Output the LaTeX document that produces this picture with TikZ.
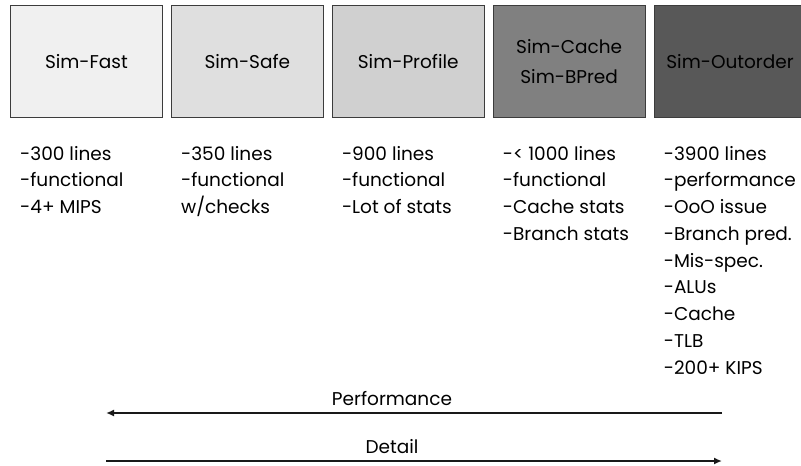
\documentclass[tikz,border=0pt]{standalone}
\usepackage{fontspec}
\setmainfont{Poppins}
\usetikzlibrary{arrows.meta,positioning}
\definecolor{gris1}{RGB}{240,240,240}
\definecolor{gris2}{RGB}{223,223,223}
\definecolor{gris3}{RGB}{208,208,208}
\definecolor{gris4}{RGB}{128,128,128}
\definecolor{gris5}{RGB}{88,88,88}
\definecolor{borde}{RGB}{60,60,60}
\tikzset{
  sim/.style={draw=borde, line width=0.9pt, minimum width=152pt, minimum height=112pt, inner sep=0pt, align=center, font=\fontsize{18.5}{30}\selectfont},
  lista/.style={anchor=north west, inner sep=0pt, align=left, font=\fontsize{18.5}{26.75}\selectfont},
  eje/.style={line width=1.8pt, black!90, -{Latex[length=8pt,width=7pt]}},
  et/.style={font=\fontsize{18.5}{22}\selectfont},
}
\begin{document}
\begin{tikzpicture}[x=1pt, y=-1pt, node distance=8pt]
  \useasboundingbox (0,0) rectangle (801,466);
  % simulators, fastest first
  \node[sim, fill=gris1, anchor=north west] (fast) at (10,5) {Sim-Fast};
  \node[sim, fill=gris2, right=of fast] (safe) {Sim-Safe};
  \node[sim, fill=gris3, right=of safe] (profile) {Sim-Profile};
  \node[sim, fill=gris4, right=of profile] (cache) {Sim-Cache\\Sim-BPred};
  \node[sim, fill=gris5, text=black, right=of cache] (outorder) {Sim-Outorder};
  % what each one gives
  \node[lista] (lfast) at ([xshift=10pt, yshift=-28pt]fast.south west) {-300 lines\\-functional\\-4+ MIPS};
  \node[lista] (lsafe) at ([xshift=10pt, yshift=-28pt]safe.south west) {-350 lines\\-functional\\w/checks};
  \node[lista] (lprofile) at ([xshift=10pt, yshift=-28pt]profile.south west) {-900 lines\\-functional\\-Lot of stats};
  \node[lista] (lcache) at ([xshift=10pt, yshift=-28pt]cache.south west) {-< 1000 lines\\-functional\\-Cache stats\\-Branch stats};
  \node[lista] (loutorder) at ([xshift=10pt, yshift=-28pt]outorder.south west) {-3900 lines\\-performance\\-OoO issue\\-Branch pred.\\-Mis-spec.\\-ALUs\\-Cache\\-TLB\\-200+ KIPS};
  % trade-off
  \coordinate (perfR) at (722,413);
  \coordinate (perfL) at (106,413);
  \coordinate (detL) at (106,461);
  \coordinate (detR) at (722,461);
  \draw[eje] (perfR) -- (perfL);
  \draw[eje] (detL) -- (detR);
  \node[et, above=4pt of perfL, xshift=286pt] (perf) {Performance};
  \node[et, above=4pt of detL, xshift=286pt] (det) {Detail};
\end{tikzpicture}
\end{document}
